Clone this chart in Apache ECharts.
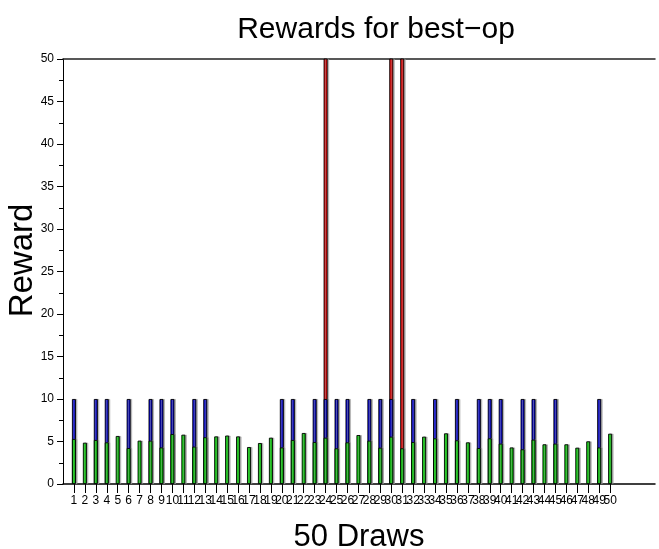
<!DOCTYPE html>
<html><head><meta charset="utf-8">
<script src="https://cdn.jsdelivr.net/npm/echarts@6/dist/echarts.min.js"></script>
<style>html,body{margin:0;padding:0;background:#fff}#c{width:659px;height:549px}</style>
</head><body><div id="c"></div>
<script>
var draws = [1,2,3,4,5,6,7,8,9,10,11,12,13,14,15,16,17,18,19,20,21,22,23,24,25,26,27,28,29,30,31,32,33,34,35,36,37,38,39,40,41,42,43,44,45,46,47,48,49,50];
var greenValues = [5.3,4.86,5.18,4.9,5.65,4.23,5.1,5.1,4.3,5.88,5.8,4.4,5.5,5.6,5.7,5.6,4.35,4.82,5.45,4.3,5.18,6.0,4.94,5.45,4.2,4.9,5.76,5.1,4.27,5.57,4.2,4.94,5.57,5.37,5.96,5.14,4.9,4.23,5.37,4.75,4.3,4.08,5.22,4.67,4.75,4.67,4.27,5.02,4.3,5.92];
var blueValues = [10,null,10,10,null,10,null,10,10,10,null,10,10,null,null,null,null,null,null,10,10,null,10,10,10,10,null,10,10,10,null,10,null,10,null,10,null,10,10,10,null,10,10,null,10,null,null,null,10,null];
var redDraws = [24,30,31];
var redValues = [60,60,60];

function pairs(xs, ys){ var out=[]; for(var i=0;i<xs.length;i++){ if(ys[i]!=null) out.push([xs[i], ys[i]]); } return out; }
function grad(a,b){ return new echarts.graphic.LinearGradient(0,0,1,0,[{offset:0,color:a},{offset:1,color:b}]); }
var font = 'Liberation Sans, Arial, sans-serif';
var baseStyle = {borderColor:'#000', borderWidth:0.9, shadowColor:'rgba(150,150,150,0.6)', shadowOffsetX:1.5, shadowBlur:0};
var firstDraw = draws[0], lastDraw = draws[draws.length-1];

var chart = echarts.init(document.getElementById('c'), null, {renderer:'canvas'});
chart.setOption({
  animation:false,
  title:{text:'Rewards for best\u2212op', left:371, top:10, textAlign:'center',
    textStyle:{fontFamily:font, fontSize:30, fontWeight:'normal', color:'#000'}},
  grid:{left:63, top:59, right:4, bottom:65, containLabel:false, outerBoundsMode:'none'},
  xAxis:[{
    type:'value', min:0, max:54.1, interval:1,
    name:'50 Draws', nameLocation:'middle', nameGap:38,
    nameTextStyle:{fontFamily:font, fontSize:31, color:'#000'},
    axisLine:{show:true, onZero:false, lineStyle:{color:'#000', width:1.5}},
    axisTick:{show:true, length:9, lineStyle:{color:'#000'}, customValues:draws},
    axisLabel:{show:true, color:'#000', fontFamily:font, fontSize:12, margin:11, hideOverlap:false,
      formatter:function(v){ return (v>=firstDraw && v<=lastDraw) ? String(v) : ''; }},
    splitLine:{show:false}
  },{
    type:'value', position:'top', min:0, max:54.1,
    axisLine:{show:true, onZero:false, lineStyle:{color:'#222', width:1.5}},
    axisTick:{show:false}, axisLabel:{show:false}, splitLine:{show:false}
  }],
  yAxis:{
    type:'value', min:0, max:50, interval:5,
    name:'Reward', nameLocation:'middle', nameGap:24, nameRotate:90, nameMoveOverlap:false,
    nameTextStyle:{fontFamily:font, fontSize:33, color:'#000', padding:[0,0,0,22]},
    axisLine:{show:true, lineStyle:{color:'#000', width:1}},
    axisTick:{show:true, length:6, lineStyle:{color:'#000'}},
    minorTick:{show:true, splitNumber:2, length:4, lineStyle:{color:'#000'}},
    axisLabel:{color:'#000', fontFamily:font, fontSize:12, margin:9},
    splitLine:{show:false}
  },
  series:[
    {type:'bar', name:'red', data:pairs(redDraws, redValues), barWidth:4, barGap:'-100%', clip:true,
      itemStyle:Object.assign({color:grad('#ff0000','#e00000')}, baseStyle)},
    {type:'bar', name:'blue', data:pairs(draws, blueValues), barWidth:4, barGap:'-100%', clip:true,
      itemStyle:Object.assign({color:grad('#0000ff','#0000a8')}, baseStyle)},
    {type:'bar', name:'green', data:pairs(draws, greenValues), barWidth:4, barGap:'-100%', clip:true,
      itemStyle:Object.assign({color:grad('#00ff00','#00a000')}, baseStyle)}
  ]
});
</script></body></html>
